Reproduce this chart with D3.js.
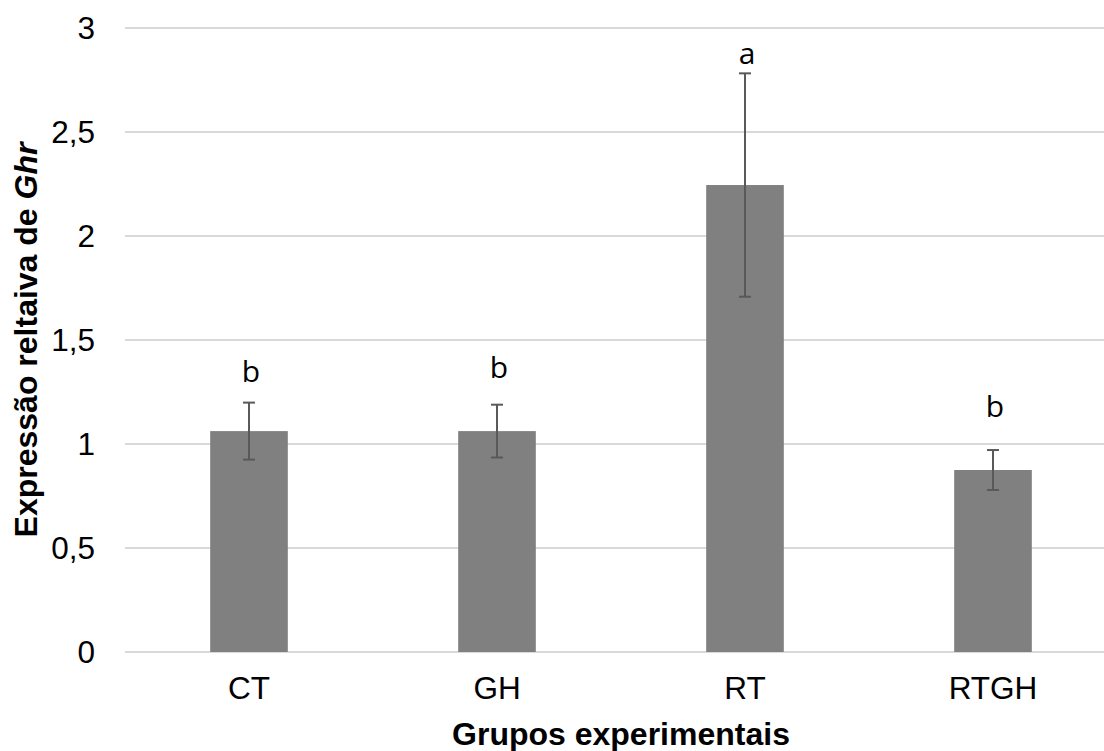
<!DOCTYPE html>
<html>
<head>
<meta charset="utf-8">
<script src="https://cdn.jsdelivr.net/npm/d3@7"></script>
<style>
  body { margin: 0; background: #fff; }
  svg { display: block; }
</style>
</head>
<body>
<svg id="chart"></svg>
<script>
const groups = ["CT", "GH", "RT", "RTGH"];
const means = [1.062, 1.062, 2.245, 0.875];
const errors = [0.137, 0.127, 0.537, 0.096];
const letters = ["b", "b", "a", "b"];
// height (in axis units) where each significance letter sits
const letterLevels = [1.298, 1.317, 2.827, 1.13];
const yTicks = [0, 0.5, 1, 1.5, 2, 2.5, 3];

const width = 1104;
const height = 751;
const margin = ({ top: 28, right: -13, bottom: 99, left: 125 });

const data = groups.map((g, i) => ({ group: g, mean: means[i], err: errors[i], letter: letters[i], level: letterLevels[i] }));

let xScale = d3.scaleBand()
    .domain(groups)
    .range([margin.left, width - margin.right])
    .paddingInner(0.687)
    .paddingOuter(0.3435);

let yScale = d3.scaleLinear()
    .domain([0, 3])
    .range([height - margin.bottom, margin.top]);

const fmt = d => String(d).replace(".", ",");

const svg = d3.select("#chart")
    .attr("width", width)
    .attr("height", height);

// gridlines
svg.append("g")
    .selectAll("line")
    .data(yTicks)
    .join("line")
    .attr("x1", margin.left)
    .attr("x2", width - margin.right)
    .attr("y1", d => yScale(d))
    .attr("y2", d => yScale(d))
    .attr("stroke", "#d9d9d9")
    .attr("stroke-width", 2);

// y axis labels
const yAxis = g => g
    .attr("transform", `translate(${margin.left},0)`)
    .call(d3.axisLeft(yScale).tickValues(yTicks).tickFormat(fmt).tickSize(0).tickPadding(30))
    .call(g => g.select(".domain").remove())
    .call(g => g.selectAll("text")
        .attr("font-family", "Liberation Sans, Arial, sans-serif")
        .attr("font-size", 31.5)
        .attr("fill", "#000"));

svg.append("g").call(yAxis);

// x axis labels
const xAxis = g => g
    .attr("transform", `translate(0,${height - margin.bottom})`)
    .call(d3.axisBottom(xScale).tickSize(0).tickPadding(25))
    .call(g => g.select(".domain").remove())
    .call(g => g.selectAll("text")
        .attr("font-family", "Liberation Sans, Arial, sans-serif")
        .attr("font-size", 31.5)
        .attr("fill", "#000"));

svg.append("g").call(xAxis);

// bars
svg.append("g")
    .selectAll("rect")
    .data(data)
    .join("rect")
    .attr("x", d => xScale(d.group))
    .attr("width", xScale.bandwidth())
    .attr("y", d => yScale(d.mean))
    .attr("height", d => yScale(0) - yScale(d.mean))
    .attr("fill", "#808080");

// error bars
const eb = svg.append("g")
    .attr("stroke", "#595959")
    .attr("stroke-width", 2);

const cx = d => xScale(d.group) + xScale.bandwidth() / 2;

eb.selectAll(".stem")
    .data(data)
    .join("line")
    .attr("x1", cx).attr("x2", cx)
    .attr("y1", d => yScale(d.mean + d.err))
    .attr("y2", d => yScale(d.mean - d.err));

eb.selectAll(".capTop")
    .data(data)
    .join("line")
    .attr("x1", d => cx(d) - 6).attr("x2", d => cx(d) + 6)
    .attr("y1", d => yScale(d.mean + d.err))
    .attr("y2", d => yScale(d.mean + d.err));

eb.selectAll(".capBottom")
    .data(data)
    .join("line")
    .attr("x1", d => cx(d) - 6).attr("x2", d => cx(d) + 6)
    .attr("y1", d => yScale(d.mean - d.err))
    .attr("y2", d => yScale(d.mean - d.err));

// letters
svg.append("g")
    .selectAll("text")
    .data(data)
    .join("text")
    .attr("x", d => cx(d) + 2)
    .attr("y", d => yScale(d.level))
    .attr("text-anchor", "middle")
    .attr("font-family", "Open Sans, sans-serif")
    .attr("font-size", 30)
    .attr("fill", "#000")
    .text(d => d.letter);

// axis titles
svg.append("text")
    .attr("x", (margin.left + width - margin.right) / 2)
    .attr("y", 745)
    .attr("text-anchor", "middle")
    .attr("font-family", "Liberation Sans, Arial, sans-serif")
    .attr("font-size", 32)
    .attr("font-weight", "bold")
    .text("Grupos experimentais");

const yTitle = svg.append("text")
    .attr("transform", `translate(37,${(yScale(0) + yScale(3)) / 2}) rotate(-90)`)
    .attr("text-anchor", "middle")
    .attr("font-family", "Liberation Sans, Arial, sans-serif")
    .attr("font-size", 32)
    .attr("font-weight", "bold");

yTitle.append("tspan").text("Expressão reltaiva de ");
yTitle.append("tspan").attr("font-style", "italic").text("Ghr");
</script>
</body>
</html>
